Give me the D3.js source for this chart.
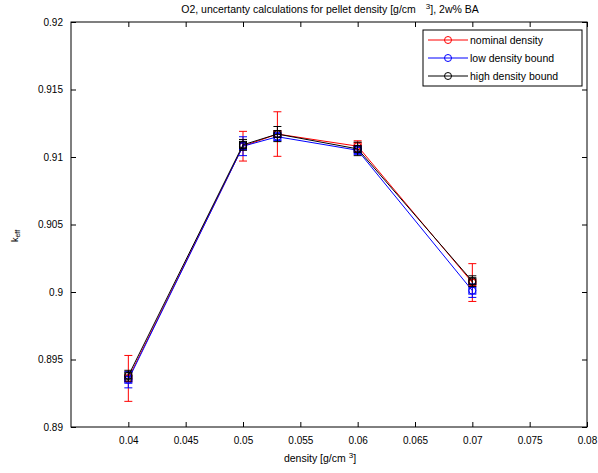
<!DOCTYPE html>
<html><head><meta charset="utf-8">
<script src="https://cdn.jsdelivr.net/npm/d3@7"></script>
<style>body{margin:0;background:#fff}svg{display:block}text{font-family:"Liberation Sans",Arial,sans-serif}</style>
</head><body><svg id="c" width="598" height="473"></svg>
<script>
const densities = [0.04, 0.05, 0.053, 0.06, 0.07];
const nominal = [0.8936, 0.9108, 0.9117, 0.9108, 0.9007];
const nominalErr = [0.0017, 0.0011, 0.00165, 0.0004, 0.0014];
const low = [0.8935, 0.9108, 0.9115, 0.9105, 0.9001];
const lowErr = [0.0006, 0.0007, 0.0003, 0.0003, 0.0005];
const high = [0.8938, 0.9109, 0.9117, 0.9106, 0.9008];
const highErr = [0.0004, 0.0004, 0.00056, 0.0005, 0.0004];
const xTicks = [0.04, 0.045, 0.05, 0.055, 0.06, 0.065, 0.07, 0.075, 0.08];
const yTicks = [0.89, 0.895, 0.9, 0.905, 0.91, 0.915, 0.92];
const seriesNames = ["nominal density", "low density bound", "high density bound"];
const seriesColors = ["#ff0000", "#0000ff", "#000000"];

const series = [
  {name: seriesNames[0], color: seriesColors[0], v: nominal, e: nominalErr},
  {name: seriesNames[1], color: seriesColors[1], v: low, e: lowErr},
  {name: seriesNames[2], color: seriesColors[2], v: high, e: highErr}
];

const svg = d3.select("#c");
const L = 71, R = 587, T = 22, B = 427;
const x = d3.scaleLinear().domain([0.035, 0.08]).range([L, R]);
const y = d3.scaleLinear().domain([0.89, 0.92]).range([B, T]);

// axes box
svg.append("rect").attr("x", L).attr("y", T).attr("width", R - L).attr("height", B - T)
  .attr("fill", "#fff").attr("stroke", "#000").attr("stroke-width", 1);

const fmt = d => String(+d.toFixed(3));
const tl = 5;
// bottom axis (inward ticks)
svg.append("g").attr("transform", `translate(0,${B})`)
  .call(d3.axisBottom(x).tickValues(xTicks).tickSize(-tl).tickPadding(10).tickFormat(fmt))
  .call(g => g.select(".domain").remove())
  .call(g => g.selectAll("text").attr("font-size", 10).attr("fill", "#000"));
// top ticks
svg.append("g").attr("transform", `translate(0,${T})`)
  .call(d3.axisTop(x).tickValues(xTicks).tickSize(-tl).tickFormat(""))
  .call(g => g.select(".domain").remove());
// left axis
svg.append("g").attr("transform", `translate(${L},0)`)
  .call(d3.axisLeft(y).tickValues(yTicks).tickSize(-tl).tickPadding(8).tickFormat(fmt))
  .call(g => g.select(".domain").remove())
  .call(g => g.selectAll("text").attr("font-size", 10).attr("fill", "#000"));
// right ticks
svg.append("g").attr("transform", `translate(${R},0)`)
  .call(d3.axisRight(y).tickValues(yTicks).tickSize(-tl).tickFormat(""))
  .call(g => g.select(".domain").remove());

// series
const line = d3.line().x(d => x(d[0])).y(d => y(d[1]));
const cap = 4;
series.forEach(s => {
  const pts = densities.map((d, i) => [d, s.v[i], s.e[i]]);
  const g = svg.append("g");
  g.append("path").datum(pts).attr("d", line).attr("fill", "none")
    .attr("stroke", s.color).attr("stroke-width", 1);
  const eb = g.selectAll(".eb").data(pts).enter().append("g");
  eb.append("line").attr("x1", d => x(d[0])).attr("x2", d => x(d[0]))
    .attr("y1", d => y(d[1] - d[2])).attr("y2", d => y(d[1] + d[2])).attr("stroke", s.color);
  eb.append("line").attr("x1", d => x(d[0]) - cap).attr("x2", d => x(d[0]) + cap)
    .attr("y1", d => y(d[1] - d[2])).attr("y2", d => y(d[1] - d[2])).attr("stroke", s.color);
  eb.append("line").attr("x1", d => x(d[0]) - cap).attr("x2", d => x(d[0]) + cap)
    .attr("y1", d => y(d[1] + d[2])).attr("y2", d => y(d[1] + d[2])).attr("stroke", s.color);
  eb.append("rect").attr("x", d => x(d[0]) - 3.5).attr("y", d => y(d[1]) - 3.5)
    .attr("width", 7).attr("height", 7).attr("fill", "none").attr("stroke", s.color);
  eb.append("circle").attr("cx", d => x(d[0])).attr("cy", d => y(d[1])).attr("r", 3.5)
    .attr("fill", "none").attr("stroke", s.color);
});

// title
const title = svg.append("text").attr("x", 330).attr("y", 13).attr("text-anchor", "middle")
  .attr("font-size", 10.5).attr("fill", "#000");
title.append("tspan").text("O2, uncertanty calculations for pellet density [g/cm");
title.append("tspan").attr("dx", 10).attr("dy", -4).attr("font-size", 8).text("3");
title.append("tspan").attr("dy", 4).text("], 2w% BA");

// x label
const xl = svg.append("text").attr("x", 320).attr("y", 462).attr("text-anchor", "middle")
  .attr("font-size", 10.5).attr("fill", "#000");
xl.append("tspan").text("density [g/cm ");
xl.append("tspan").attr("dy", -4).attr("font-size", 8).text("3");
xl.append("tspan").attr("dy", 4).text("]");

// y label
const yl = svg.append("text").attr("transform", "translate(18,236) rotate(-90)")
  .attr("text-anchor", "middle").attr("font-size", 9).attr("fill", "#000");
yl.append("tspan").text("k");
yl.append("tspan").attr("dy", 2).attr("font-size", 7).text("eff");

// legend
const lg = svg.append("g");
lg.append("rect").attr("x", 423).attr("y", 30).attr("width", 159).attr("height", 56)
  .attr("fill", "#fff").attr("stroke", "#000");
series.forEach((s, i) => {
  const yy = 40 + i * 18;
  lg.append("line").attr("x1", 428).attr("x2", 468).attr("y1", yy).attr("y2", yy).attr("stroke", s.color);
  lg.append("circle").attr("cx", 448).attr("cy", yy).attr("r", 3.5).attr("fill", "none").attr("stroke", s.color);
  lg.append("text").attr("x", 470).attr("y", yy + 4).attr("font-size", 10.5).attr("fill", "#000").text(s.name);
});
</script></body></html>
